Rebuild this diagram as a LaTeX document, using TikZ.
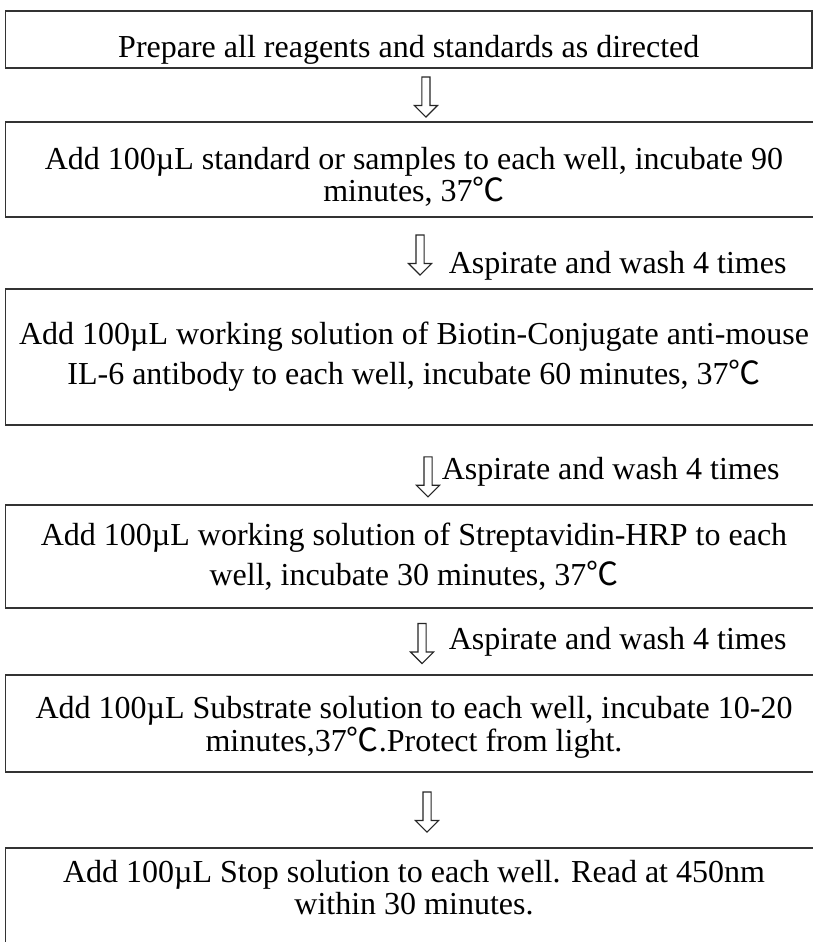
\documentclass[tikz,border=0pt]{standalone}
\usepackage{fontspec}
\setmainfont{Liberation Serif}
\newfontfamily\cjk{Noto Sans CJK SC}
\usetikzlibrary{positioning,shapes.arrows}
\newcommand{\degc}{{\cjk ℃}}
\begin{document}
\begin{tikzpicture}[x=1pt, y=-1pt, node distance=20pt,
    main/.style = {draw=black!80, line width=1.8pt, minimum width=817pt, align=center, inner sep=0pt, font=\fontsize{32}{40}\selectfont},
    hollow/.style = {draw=black!85, line width=1.1pt, fill=white, single arrow, shape border rotate=270, minimum height=40pt, inner sep=3.5pt, single arrow head extend=7.5pt},
    wash/.style = {inner sep=0pt, font=\fontsize{32}{40}\selectfont}]
        \useasboundingbox (0,0) rectangle (813,942);
        \clip (0,0) rectangle (813,942);
        \node[main, minimum width=806.5pt, minimum height=57pt, text height=37pt, text depth=0pt] (1) at (408.75,39.5) {Prepare all reagents and standards as directed};
        \node[main, minimum height=95pt, font=\fontsize{32}{32}\selectfont, text height=64pt, text depth=0pt] (2) at (414,169.5) {Add 100µL standard or samples to each well, incubate 90\\minutes, 37\degc};
        \node[main, minimum height=136pt] (3) at (414,357) {Add 100µL working solution of Biotin-Conjugate anti-mouse\\IL-6 antibody to each well, incubate 60 minutes, 37\degc};
        \node[main, minimum height=103pt] (4) at (414,556.5) {Add 100µL working solution of Streptavidin-HRP to each\\well, incubate 30 minutes, 37\degc};
        \node[main, minimum height=97pt, font=\fontsize{32}{33}\selectfont, text depth=0pt] (5) at (414,723.5) {Add 100µL Substrate solution to each well, incubate 10-20\\minutes,37\degc.Protect from light.};
        \node[main, minimum height=112pt, font=\fontsize{32}{32}\selectfont, text height=60pt, text depth=40pt] (6) at (414,904) {Add 100µL Stop solution to each well. Read at 450nm\\within 30 minutes.};
        \path (1.south) -- node[hollow, xshift=14.6pt] (a1) {} (2.north);
        \path (2.south) -- node[hollow, xshift=6pt] (a2) {} (3.north);
        \path (3.south) -- node[hollow, xshift=14pt, pos=0.625] (a3) {} (4.north);
        \path (4.south) -- node[hollow, xshift=8pt] (a4) {} (5.north);
        \path (5.south) -- node[hollow, xshift=13pt] (a5) {} (6.north);
        \node[wash, right=24pt of a2, yshift=-13pt] (w2) {Aspirate and wash 4 times};
        \node[wash, right=9pt of a3, yshift=3pt] (w3) {Aspirate and wash 4 times};
        \node[wash, right=22pt of a4] (w4) {Aspirate and wash 4 times};
    \end{tikzpicture}
\end{document}
